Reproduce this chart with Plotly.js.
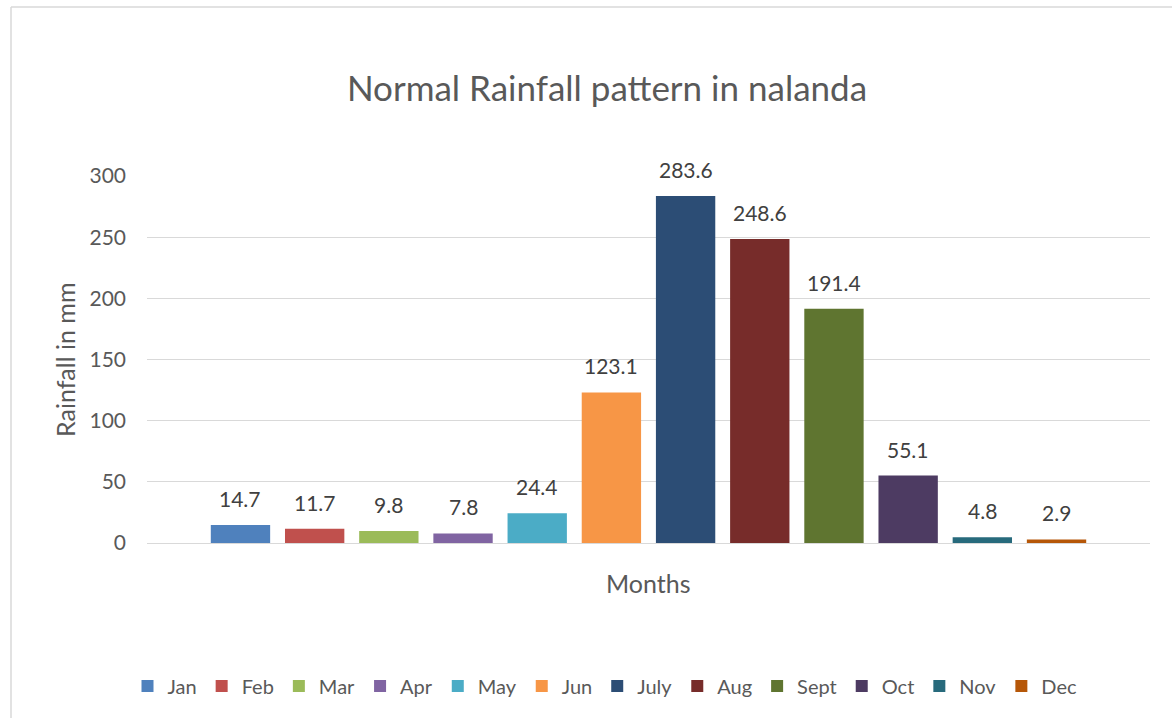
<!DOCTYPE html>
<html>
<head>
<meta charset="utf-8">
<script src="https://cdn.plot.ly/plotly-3.0.1.min.js"></script>
<style>
  html, body { margin: 0; padding: 0; background: #fff; }
  #chart { width: 1172px; height: 718px; }
</style>
</head>
<body>
<div id="chart"></div>
<script>
const months = ["Jan", "Feb", "Mar", "Apr", "May", "Jun", "July", "Aug", "Sept", "Oct", "Nov", "Dec"];
const rainfall = [14.7, 11.7, 9.8, 7.8, 24.4, 123.1, 283.6, 248.6, 191.4, 55.1, 4.8, 2.9];
const colors = ["#4F81BD", "#C0504D", "#9BBB59", "#8064A2", "#4BACC6", "#F79646",
                "#2C4D75", "#772C2A", "#5F7530", "#4D3B62", "#276A7C", "#B65708"];
const yTicks = [0, 50, 100, 150, 200, 250, 300];

const FONT = "Lato, 'Open Sans', sans-serif";

const traces = months.map((m, i) => ({
  type: "bar",
  name: m,
  x: [m],
  y: [rainfall[i]],
  width: 0.8,
  marker: { color: colors[i] },
  hoverinfo: "name+y"
}));

const labelAnnotations = months.map((m, i) => ({
  x: m, y: rainfall[i], xref: "x", yref: "y",
  text: String(rainfall[i]),
  showarrow: false,
  yanchor: "bottom",
  yshift: 12,
  font: { family: FONT, size: 21, color: "#404040" }
}));

const layout = {
  width: 1172, height: 718,
  paper_bgcolor: "#ffffff",
  plot_bgcolor: "#ffffff",
  margin: { l: 147, r: 22, t: 176, b: 175 },
  showlegend: true,
  barmode: "overlay",
  font: { family: FONT, color: "#595959" },
  title: {
    text: "Normal Rainfall pattern in nalanda",
    font: { family: FONT, size: 35, color: "#595959" },
    x: (607 - 0) / 1172, xanchor: "center",
    y: 1 - 89 / 718, yanchor: "middle", yref: "container"
  },
  xaxis: {
    type: "category",
    categoryorder: "array",
    categoryarray: months,
    range: [-1.26, 12.26],
    showticklabels: false,
    showgrid: false,
    zeroline: false,
    showline: false,
    ticks: "",
    fixedrange: true
  },
  yaxis: {
    range: [0, 300],
    tickvals: yTicks,
    ticktext: yTicks.map(String),
    showgrid: true,
    gridcolor: "#D9D9D9",
    gridwidth: 1.3,
    zeroline: true,
    zerolinecolor: "#D9D9D9",
    zerolinewidth: 1.3,
    showline: false,
    ticks: "",
    ticklabelstandoff: 20,
    tickfont: { family: FONT, size: 21, color: "#595959" },
    fixedrange: true
  },
  legend: {
    orientation: "h",
    x: (605 - 147) / 1003, xanchor: "center",
    y: -(686 - 543) / 367, yanchor: "middle",
    font: { family: FONT, size: 20, color: "#595959" },
    itemclick: false, itemdoubleclick: false,
    traceorder: "normal"
  },
  annotations: labelAnnotations.concat([
    {
      text: "Months", xref: "paper", yref: "paper",
      x: (648 - 147) / 1003, y: -(583 - 543) / 367, xanchor: "center", yanchor: "middle",
      showarrow: false,
      font: { family: FONT, size: 25, color: "#595959" }
    },
    {
      text: "Rainfall in mm", xref: "paper", yref: "paper",
      x: (65 - 147) / 1003, y: (543 - 360) / 367, xanchor: "center", yanchor: "middle",
      textangle: -90, showarrow: false,
      font: { family: FONT, size: 25, color: "#595959" }
    }
  ]),
  shapes: [
    { type: "line", xref: "paper", yref: "paper",
      x0: (11 - 147) / 1003, x1: (1180 - 147) / 1003,
      y0: (543 - 7) / 367, y1: (543 - 7) / 367,
      line: { color: "#D9D9D9", width: 1.5 } },
    { type: "line", xref: "paper", yref: "paper",
      x0: (11 - 147) / 1003, x1: (11 - 147) / 1003,
      y0: (543 - 7) / 367, y1: (543 - 725) / 367,
      line: { color: "#D9D9D9", width: 1.5 } }
  ]
};

Plotly.newPlot("chart", traces, layout, { displayModeBar: false, staticPlot: false });
</script>
</body>
</html>
